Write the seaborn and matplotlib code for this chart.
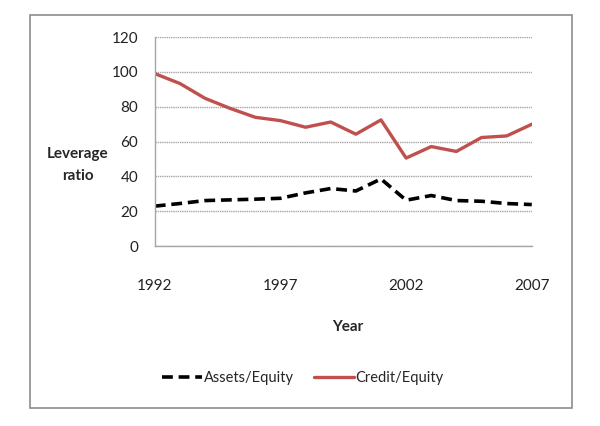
import numpy as np
import pandas as pd
import matplotlib
matplotlib.use("Agg")
import matplotlib.pyplot as plt
import matplotlib.patches as mpatches
import seaborn as sns

# data
years = list(range(1992, 2008))
assets_equity = [22.9, 24.4, 26.1, 26.5, 26.9, 27.4, 30.5, 33.0, 31.6, 38.5,
                 26.3, 29.0, 26.1, 25.7, 24.4, 23.8]
credit_equity = [99.0, 93.3, 84.8, 79.0, 73.9, 72.0, 68.2, 71.2, 64.2, 72.4,
                 50.5, 57.1, 54.3, 62.3, 63.2, 69.9]
x_ticks = [1992, 1997, 2002, 2007]
y_ticks = [0, 20, 40, 60, 80, 100, 120]

RED = '#C0504D'
GRID = '#a6a6a6'
FS = 11

sns.set_style('white')
plt.rcParams['font.family'] = ['Lato', 'DejaVu Sans']

df = pd.DataFrame({'Year': years, 'Assets/Equity': assets_equity,
                   'Credit/Equity': credit_equity})

fig = plt.figure(figsize=(6, 4.26), dpi=100)
ax = fig.add_axes([0.258, 0.4225, 0.6283, 0.4906])

sns.lineplot(data=df, x='Year', y='Assets/Equity', ax=ax, color='black',
             linewidth=2.6, label='Assets/Equity')
ax.lines[-1].set_dashes([3, 1.6])
sns.lineplot(data=df, x='Year', y='Credit/Equity', ax=ax, color=RED,
             linewidth=2.4, label='Credit/Equity')

ax.set_xlim(1992, 2007)
ax.set_ylim(0, 120)
ax.set_xticks(x_ticks)
ax.set_yticks(y_ticks)
ax.grid(axis='y', color=GRID, linewidth=1, linestyle=(0, (1, 0.6)))
ax.set_axisbelow(True)

for side in ['top', 'right']:
    ax.spines[side].set_visible(False)
for side in ['left', 'bottom']:
    ax.spines[side].set_color(GRID)
    ax.spines[side].set_linewidth(1)

ax.tick_params(axis='y', length=4, color=GRID, pad=8, labelsize=FS)
ax.tick_params(axis='x', length=6, color=GRID, pad=18, labelsize=FS)
for lbl in ax.get_xticklabels() + ax.get_yticklabels():
    lbl.set_color('#222222')

ax.set_ylabel('Leverage\nratio', rotation=0, ha='center', va='center',
              fontsize=FS, fontweight='bold', linespacing=1.7)
ax.yaxis.set_label_coords(-0.204, 0.388)
ax.set_xlabel('Year', fontsize=FS, fontweight='bold')
ax.xaxis.set_label_coords(0.512, -0.354)

ax.get_legend().remove()
h, l = ax.get_legend_handles_labels()
fig.legend(h, l, loc='center', bbox_to_anchor=(0.505, 0.113), ncol=2,
           frameon=False, fontsize=10.5, handlelength=2.7,
           columnspacing=1.4, handletextpad=0.15)

# outer chart border
fig.patches.append(mpatches.Rectangle((0.05, 0.042), 0.903, 0.9225,
                                      transform=fig.transFigure, fill=False,
                                      edgecolor='#8c8c8c', linewidth=1.2))

fig.savefig('out.png', dpi=100)
